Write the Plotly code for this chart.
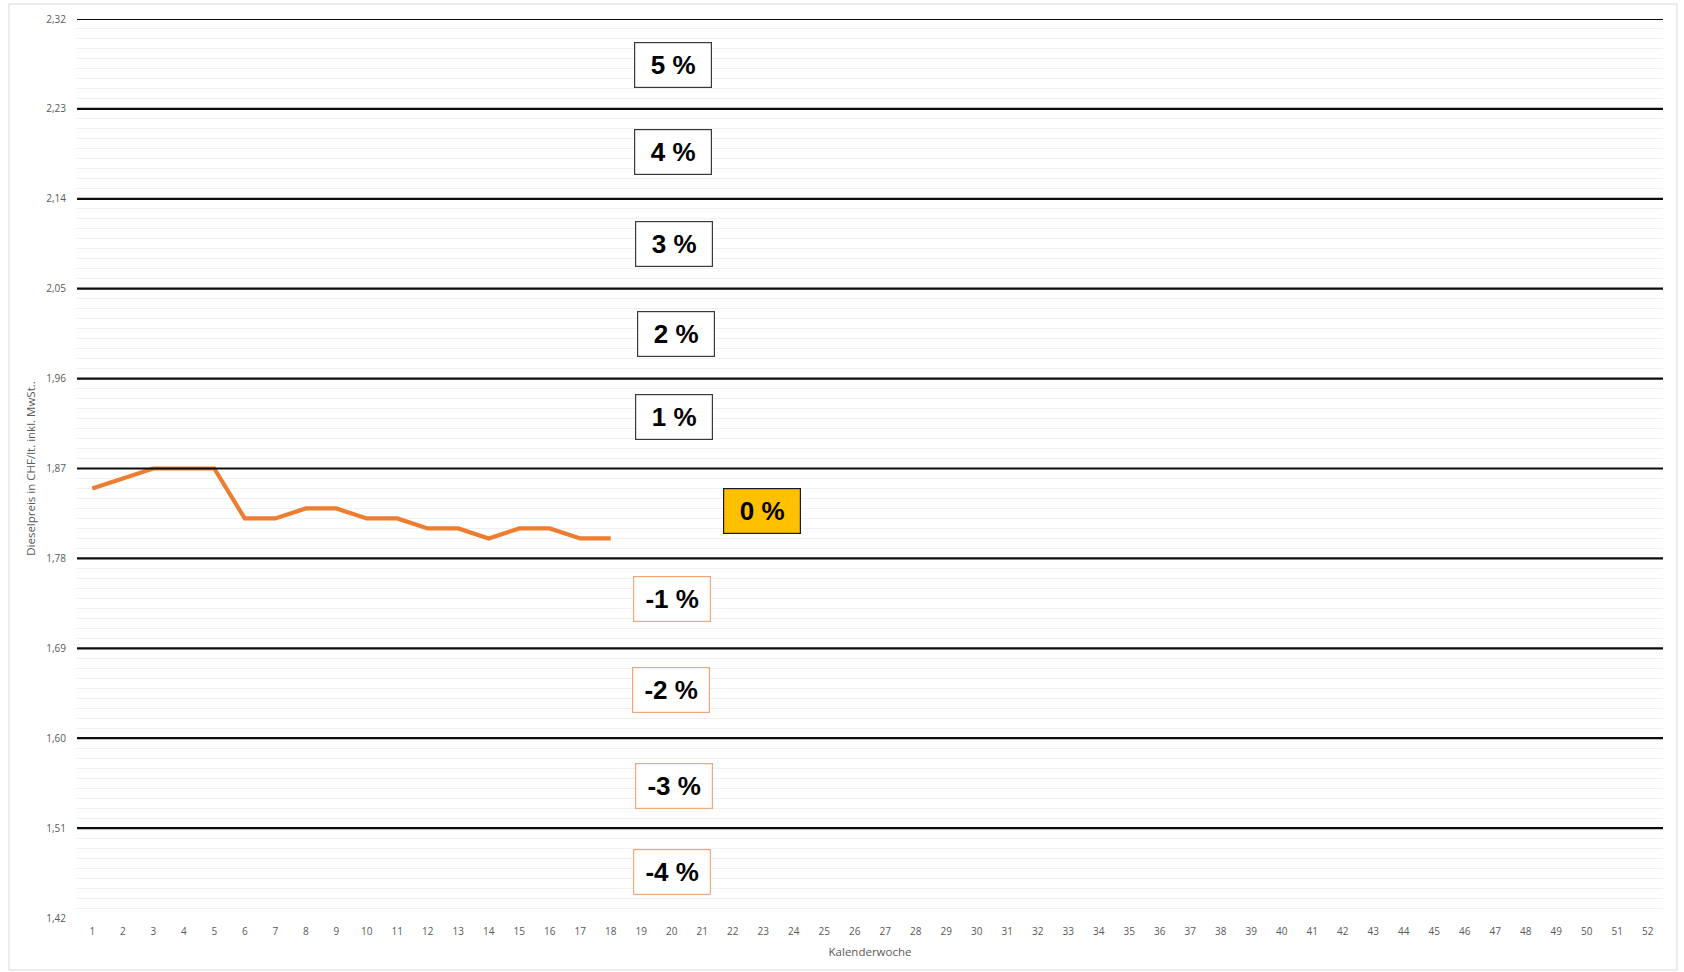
import plotly.graph_objects as go

# Weekly diesel price (CHF per litre incl. VAT), calendar weeks 1-18
weeks = list(range(1, 19))
prices = [1.85, 1.86, 1.87, 1.87, 1.87, 1.82, 1.82, 1.83, 1.83,
          1.82, 1.82, 1.81, 1.81, 1.80, 1.81, 1.81, 1.80, 1.80]

all_weeks = list(range(1, 53))

# Price thresholds separating the surcharge bands
band_limits = [1.51, 1.60, 1.69, 1.78, 1.87, 1.96, 2.05, 2.14, 2.23, 2.32]

# Band labels and where they sit
band_texts = ["5 %", "4 %", "3 %", "2 %", "1 %", "0 %", "-1 %", "-2 %", "-3 %", "-4 %"]
band_label_x = [20.05, 20.05, 20.08, 20.15, 20.08, 22.96, 20.02, 19.98, 20.08, 20.02]
band_label_y = [2.274, 2.187, 2.095, 2.005, 1.922, 1.827, 1.739, 1.648, 1.552, 1.466]

y_min, y_max, y_step = 1.42, 2.32, 0.09

fig = go.Figure()

fig.add_trace(go.Scatter(
    x=weeks, y=prices, mode="lines",
    line=dict(color="#ED7D31", width=4.2),
    showlegend=False, hoverinfo="x+y",
))

# Black threshold lines across the full plot width
for lim in band_limits:
    fig.add_shape(type="line", xref="paper", yref="y",
                  x0=0, x1=1, y0=lim, y1=lim,
                  line=dict(color="#0d0d0d", width=2.2), layer="above")

# Band labels
for txt, bx, by in zip(band_texts, band_label_x, band_label_y):
    if txt == "0 %":
        bg, border = "#FFC000", "#1a1a1a"
    elif txt.startswith("-"):
        bg, border = "#FFFFFF", "#F4A77A"
    else:
        bg, border = "#FFFFFF", "#3a3a3a"
    fig.add_annotation(
        x=bx, y=by, xref="x", yref="y", text="<b>" + txt + "</b>", showarrow=False,
        font=dict(family="Liberation Sans, Arial, sans-serif", size=26, color="#000000"),
        bgcolor=bg, bordercolor=border, borderwidth=1.2, borderpad=2,
        width=72, height=40, align="center", valign="middle",
    )

# Outer chart frame
fig.add_shape(type="rect", xref="paper", yref="paper",
              x0=-0.0429, x1=1.0088, y0=-0.0578, y1=1.0167,
              line=dict(color="#D9D9D9", width=1), fillcolor="rgba(0,0,0,0)",
              layer="below")

tick_font = dict(family="Open Sans, Lato, sans-serif", size=10, color="#595959")
title_font = dict(family="Open Sans, Lato, sans-serif", size=11.5, color="#595959")

fig.update_layout(
    width=1684, height=972,
    margin=dict(l=77, r=21, t=19, b=54),
    paper_bgcolor="white", plot_bgcolor="white",
    separators=", ",
    showlegend=False,
    xaxis=dict(
        range=[0.5, 52.5], tickmode="array", tickvals=all_weeks,
        ticktext=[str(w) for w in all_weeks],
        showgrid=False, zeroline=False, showline=False, ticks="",
        tickfont=tick_font, ticklabelstandoff=6,
        title=dict(text="Kalenderwoche", font=title_font, standoff=10),
    ),
    yaxis=dict(
        range=[y_min, y_max], tick0=y_min, dtick=y_step, tickformat=".2f",
        showgrid=True, gridcolor="#D9D9D9", gridwidth=1,
        minor=dict(dtick=0.01, tick0=y_min, showgrid=True, gridcolor="#F0F0F0", gridwidth=1),
        zeroline=False, showline=False, ticks="",
        tickfont=tick_font, ticklabelstandoff=10,
        title=dict(text="Dieselpreis in CHF/lt. inkl. MwSt..", font=title_font, standoff=8),
    ),
)

fig.write_html("out.html")
